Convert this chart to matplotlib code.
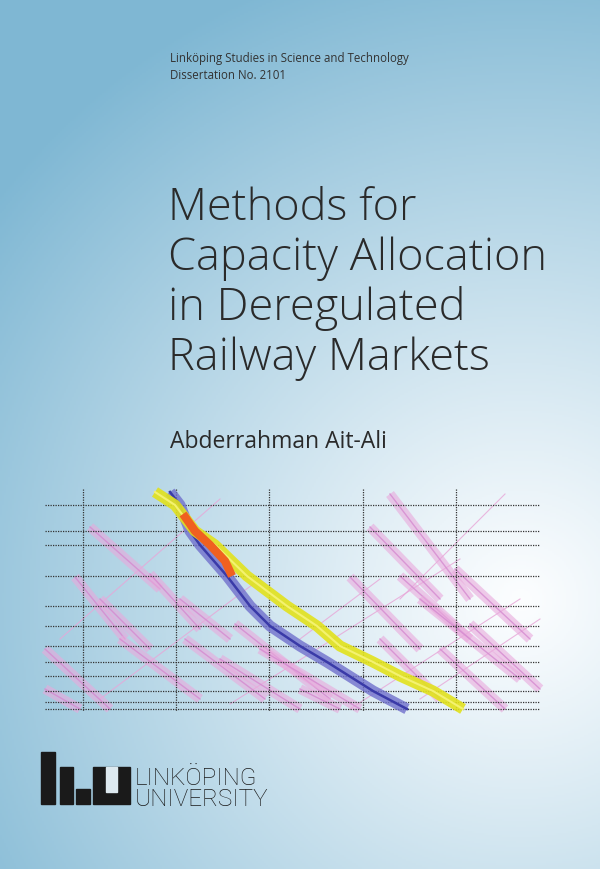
import numpy as np
import matplotlib
matplotlib.use("Agg")
import matplotlib.pyplot as plt
from matplotlib.patches import Rectangle

series_label = "Linköping Studies in Science and Technology"
dissertation = "Dissertation No. 2101"
title_lines = ["Methods for", "Capacity Allocation", "in Deregulated", "Railway Markets"]
author = "Abderrahman Ait-Ali"
uni_lines = ["LINKÖPING", "UNIVERSITY"]

station_y = [506, 532, 546, 577, 607, 627, 647, 663, 677, 692, 703, 710]
time_x = [83, 176, 269, 363, 456]

blue_x = [170, 180, 190, 200, 227, 250, 270, 300, 327, 373, 407]
blue_y = [493, 506, 532, 546, 577, 607, 627, 647, 663, 692, 710]
yellow_x = [155, 175, 195, 215, 247, 287, 317, 340, 373, 400, 433, 463]
yellow_y = [493, 506, 532, 546, 577, 607, 627, 647, 663, 677, 692, 710]
red_x = [183, 195, 210, 225, 232]
red_y = [515, 532, 546, 562, 577]

pink_paths = [
    (90, 528, 160, 590), (75, 578, 125, 640), (150, 575, 200, 630),
    (180, 600, 230, 640), (120, 640, 200, 700), (45, 650, 110, 710),
    (45, 690, 80, 710), (185, 640, 265, 700), (220, 660, 300, 710),
    (235, 625, 330, 700), (260, 650, 360, 710), (300, 690, 340, 710),
    (390, 495, 470, 600), (370, 528, 440, 600), (350, 578, 420, 650),
    (400, 577, 470, 640), (420, 600, 520, 680), (440, 650, 505, 710),
    (470, 625, 540, 690), (455, 570, 530, 640), (380, 640, 440, 700),
    (100, 600, 150, 650),
]
pink_thin = [
    (60, 640, 220, 500), (100, 700, 260, 580), (230, 705, 460, 560),
    (350, 710, 520, 600), (400, 600, 505, 495), (300, 640, 380, 580),
    (420, 700, 540, 620),
]

W, H = 600, 870
fig = plt.figure(figsize=(6, 8.7), dpi=100)
ax = fig.add_axes([0, 0, 1, 1])
ax.set_xlim(0, W)
ax.set_ylim(H, 0)
ax.axis("off")

yy, xx = np.mgrid[0:H:2, 0:W:2]
d = np.sqrt(((xx - 520) / 600.0) ** 2 + ((yy - 600) / 600.0) ** 2)
t = np.clip(d / 1.1, 0, 1) ** 1.1
top = np.array([0.50, 0.72, 0.83])
white = np.array([0.99, 0.995, 1.0])
img = white[None, None, :] * (1 - t[..., None]) + top[None, None, :] * t[..., None]
ax.imshow(img, extent=[0, W, H, 0], zorder=0, aspect="auto")

for y in station_y:
    ax.plot([45, 540], [y, y], color="#333333", lw=0.9, ls=(0, (1, 1)), zorder=2)
for x in time_x:
    ax.plot([x, x], [490, 712], color="#333333", lw=0.9, ls=(0, (1, 1)), zorder=2)

for (x0, y0, x1, y1) in pink_thin:
    ax.plot([x0, x1], [y0, y1], color="#e8a6d8", lw=0.8, alpha=0.8, zorder=1)
for (x0, y0, x1, y1) in pink_paths:
    ax.plot([x0, x1], [y0, y1], color="#e9a9dc", lw=7, alpha=0.6,
            solid_capstyle="butt", zorder=1)
    ax.plot([x0, x1], [y0, y1], color="#d58ad0", lw=1, alpha=0.8, zorder=1)

ax.plot(blue_x, blue_y, color="#7070cc", lw=8, alpha=0.8, solid_capstyle="butt", zorder=3)
ax.plot(blue_x, blue_y, color="#3a3aa8", lw=1.8, zorder=3)
ax.plot(yellow_x, yellow_y, color="#e2e21c", lw=8, alpha=0.9, solid_capstyle="butt", zorder=4)
ax.plot(yellow_x, yellow_y, color="#f4f270", lw=1.5, zorder=4)
ax.plot(red_x, red_y, color="#f06020", lw=6, solid_capstyle="butt", zorder=5)

ax.text(170, 62, series_label, fontsize=8.3, color="#333333", family="Open Sans", va="baseline")
ax.text(170, 79, dissertation, fontsize=8.3, color="#333333", family="Open Sans", va="baseline")
for i, line in enumerate(title_lines):
    ax.text(168, 220 + i * 50, line, fontsize=32.5, color="#2a2a2a",
            family="Open Sans", weight="light", va="baseline")
ax.text(170, 448, author, fontsize=16.5, color="#2a2a2a", family="Open Sans",
        weight="medium", va="baseline")

k = "#1a1a1a"
ax.add_patch(Rectangle((41, 753), 14, 52, color=k, zorder=6))
ax.add_patch(Rectangle((60, 768), 13, 37, color=k, zorder=6))
ax.add_patch(Rectangle((76, 790), 14, 15, color=k, zorder=6))
ax.add_patch(Rectangle((93, 768), 37, 37, color=k, zorder=6))
ax.add_patch(Rectangle((106, 768), 11, 25, color="#dde9ef", zorder=7))
ax.text(135, 785, uni_lines[0], fontsize=17.5, color=k, family="Roboto", weight="light",
        va="baseline")
ax.text(135, 806, uni_lines[1], fontsize=17.5, color=k, family="Roboto", weight="light",
        va="baseline")

fig.savefig("out.png", dpi=100)
